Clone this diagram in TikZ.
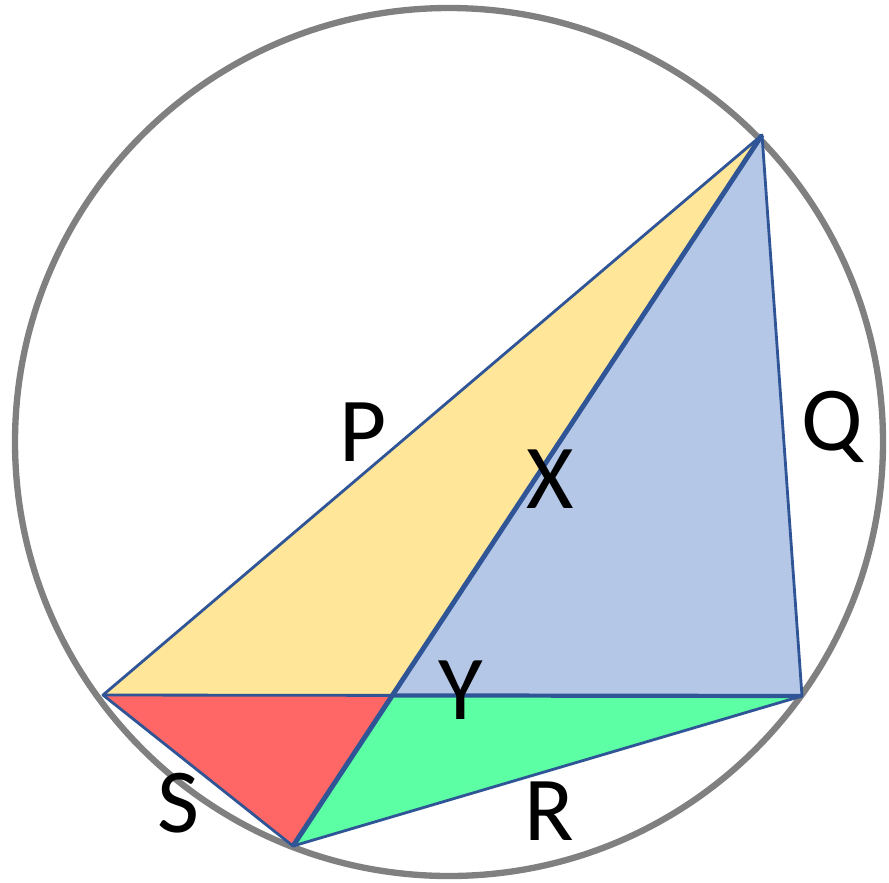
\documentclass[tikz,border=0pt]{standalone}
\usepackage{fontspec}
\setmainfont{Carlito}
\usepackage{tikz}
\usetikzlibrary{calc}
\definecolor{rim}{RGB}{128,128,128}
\definecolor{edge}{RGB}{47,85,151}
\definecolor{sunny}{RGB}{255,230,153}
\definecolor{sky}{RGB}{180,199,231}
\definecolor{coral}{RGB}{255,102,102}
\definecolor{mint}{RGB}{92,255,163}

\begin{document}
\begin{tikzpicture}[
    side/.style={draw=edge, line width=0.8pt, line join=round},
    lbl/.style={font=\fontsize{26}{30}\selectfont, anchor=base, inner sep=0pt}]
  \useasboundingbox (0,0) rectangle (8.89,8.82);
  \coordinate (A) at (7.62,7.47);
  \coordinate (B) at (1.03,1.87);
  \coordinate (C) at (8.02,1.86);
  \coordinate (D) at (2.93,0.36);
  \coordinate (Y) at (intersection of A--D and B--C);
  % circle round it all
  \draw[rim, line width=1.8pt] (4.49,4.40) circle (4.34);
  % the four triangles
  \fill[sunny] (B) -- (A) -- (Y) -- cycle;
  \fill[sky]   (Y) -- (A) -- (C) -- cycle;
  \fill[coral] (B) -- (Y) -- (D) -- cycle;
  \fill[mint]  (Y) -- (C) -- (D) -- cycle;
  \draw[side] (B) -- (A) -- (C) -- (D) -- cycle;
  \draw[side] (B) -- (Y);
  \draw[side, line width=1.2pt] (Y) -- (C);
  \draw[side, line width=1.4pt] (A) -- (D);
  % letters
  \node[lbl] (p) at (3.63,4.21) {P};
  \node[lbl] (q) at (8.32,4.32) {Q};
  \node[lbl] (x) at (5.50,3.74) {X};
  \node[lbl] (y) at (4.61,1.63) {Y};
  \node[lbl] (s) at (1.78,0.50) {S};
  \node[lbl] (r) at (5.49,0.42) {R};
\end{tikzpicture}
\end{document}
